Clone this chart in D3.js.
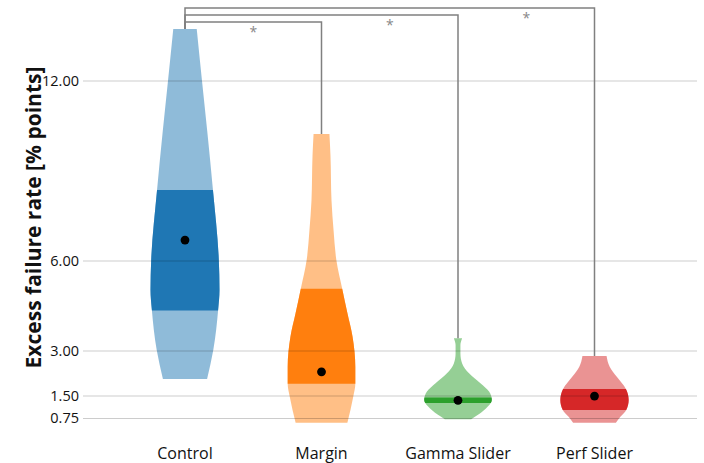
<!DOCTYPE html>
<html>
<head>
<meta charset="utf-8">
<script src="https://cdn.jsdelivr.net/npm/d3@7"></script>
<style>
  html, body { margin: 0; padding: 0; background: #fff; }
  svg { display: block; font-family: "Open Sans", "Noto Sans", sans-serif; }
</style>
</head>
<body>
<svg id="chart" width="704" height="463"></svg>
<script>
// Groups and colours
const categories = ["Control", "Margin", "Gamma Slider", "Perf Slider"];
const colors = ["#1f77b4", "#ff7f0e", "#2ca02c", "#d62728"];

// Y axis ticks
const yTicks = [0.75, 1.5, 3, 6, 12];

// Density profiles (value, relative density) for each violin
const controlValues  = [13.72, 12.02, 10.25, 8.35, 6.02, 5.02, 4.35, 3.02, 2.05];
const controlDensity = [0.34, 0.49, 0.65, 0.81, 0.98, 1.0, 0.96, 0.82, 0.64];
const marginValues   = [10.22, 9.5, 8.0, 7.0, 6.02, 5.06, 4.25, 3.46, 2.46, 1.89, 1.46, 0.59];
const marginDensity  = [0.23, 0.26, 0.29, 0.35, 0.43, 0.60, 0.75, 0.90, 0.98, 0.98, 0.92, 0.75];
const gammaValues    = [3.41, 3.18, 2.9, 2.57, 2.24, 1.91, 1.63, 1.35, 1.07, 0.79, 0.71];
const gammaDensity   = [0.12, 0.07, 0.07, 0.12, 0.32, 0.65, 0.90, 0.98, 0.81, 0.49, 0.38];
const perfValues     = [2.82, 2.46, 2.13, 1.72, 1.35, 1.02, 0.79, 0.59];
const perfDensity    = [0.35, 0.44, 0.64, 0.91, 0.99, 0.92, 0.75, 0.62];

// Summary statistics
const q1      = [4.33, 1.89, 1.25, 1.02];
const medians = [6.68, 2.29, 1.34, 1.48];
const q3      = [8.35, 5.06, 1.43, 1.72];

// Significance comparisons against Control
const comparisons = [["Control", "Margin"], ["Control", "Gamma Slider"], ["Control", "Perf Slider"]];
const compLabels = ["*", "*", "*"];

const profiles = [
  controlValues.map((v, i) => ({ v, d: controlDensity[i] })),
  marginValues.map((v, i) => ({ v, d: marginDensity[i] })),
  gammaValues.map((v, i) => ({ v, d: gammaDensity[i] })),
  perfValues.map((v, i) => ({ v, d: perfDensity[i] }))
];

const svg = d3.select("#chart");

const y = d3.scaleLinear().domain([0, 12]).range([440.5, 80.5]);
const x = d3.scalePoint().domain(categories).range([185, 594.5]);
const w = d3.scaleLinear().domain([0, 1]).range([0, 34.5]);

const defs = svg.append("defs");

// Violins
const violins = svg.append("g");
categories.forEach((cat, i) => {
  const cx = x(cat);
  const area = d3.area()
    .y(d => y(d.v))
    .x0(d => cx - w(d.d))
    .x1(d => cx + w(d.d))
    .curve(d3.curveMonotoneY);
  const g = violins.append("g");
  g.append("path")
    .attr("d", area(profiles[i]))
    .attr("fill", colors[i])
    .attr("fill-opacity", 0.5);
  const clipId = "iqr-" + i;
  defs.append("clipPath").attr("id", clipId)
    .append("rect")
    .attr("x", cx - 50).attr("width", 100)
    .attr("y", y(q3[i])).attr("height", y(q1[i]) - y(q3[i]));
  g.append("path")
    .attr("d", area(profiles[i]))
    .attr("fill", colors[i])
    .attr("clip-path", `url(#${clipId})`);
});

// Gridlines and tick labels
const axis = d3.axisLeft(y)
  .tickValues(yTicks)
  .tickFormat(d3.format(".2f"))
  .tickSize(-(697 - 83))
  .tickPadding(4);
const ax = svg.append("g").attr("transform", "translate(83,0)").call(axis);
ax.select(".domain").remove();
ax.selectAll(".tick line").attr("stroke", "#000").attr("stroke-opacity", 0.2).attr("stroke-width", 1.2);
ax.selectAll(".tick text")
  .attr("fill", "#111")
  .style("font-family", "'Open Sans', sans-serif")
  .style("font-size", "14.5px");

// Median markers
svg.append("g").selectAll("circle")
  .data(categories)
  .join("circle")
  .attr("cx", d => x(d))
  .attr("cy", (d, i) => y(medians[i]))
  .attr("r", 4.4)
  .attr("fill", "#000");

// Category labels
svg.append("g").selectAll("text")
  .data(categories)
  .join("text")
  .attr("x", d => x(d))
  .attr("y", 459)
  .attr("text-anchor", "middle")
  .attr("fill", "#111")
  .style("font-size", "16px")
  .text(d => d);

// Y axis title
svg.append("text")
  .attr("transform", "translate(41,217.5) rotate(-90)")
  .attr("text-anchor", "middle")
  .attr("fill", "#111")
  .style("font-size", "21px")
  .style("font-weight", "bold")
  .text("Excess failure rate [% points]");

// Significance brackets
const topOf = cat => y(d3.max(profiles[categories.indexOf(cat)], d => d.v));
const brackets = svg.append("g");
comparisons.forEach(([a, b], i) => {
  const level = 22 - i * 7;
  const xa = x(a), xb = x(b);
  brackets.append("path")
    .attr("d", `M${xa},${topOf(a)}V${level}H${xb}V${topOf(b)}`)
    .attr("fill", "none")
    .attr("stroke", "#808080")
    .attr("stroke-width", 1.5);
  const prev = categories[categories.indexOf(b) - 1];
  brackets.append("text")
    .attr("x", (x(prev) + xb) / 2)
    .attr("y", level + 15)
    .attr("text-anchor", "middle")
    .attr("fill", "#888")
    .style("font-size", "14px")
    .text(compLabels[i]);
});
</script>
</body>
</html>
